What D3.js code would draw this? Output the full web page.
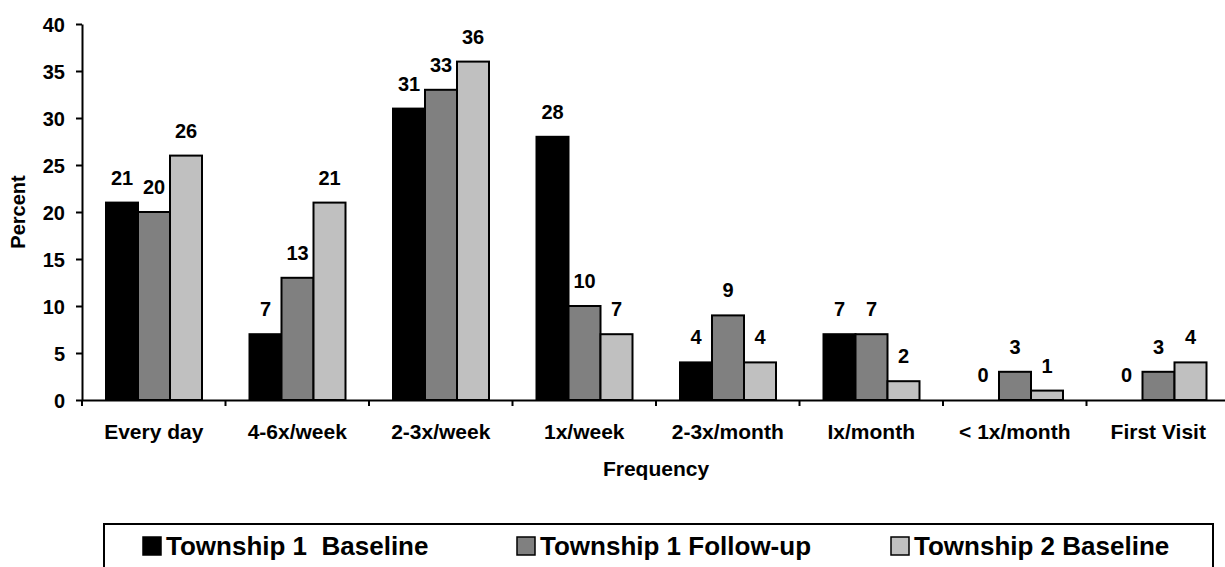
<!DOCTYPE html>
<html>
<head>
<meta charset="utf-8">
<script src="https://cdn.jsdelivr.net/npm/d3@7"></script>
<style>
  body { margin: 0; background: #fff; }
  svg text { font-family: 'Liberation Sans', Arial, sans-serif; font-weight: bold; fill: #000; }
</style>
</head>
<body>
<div id="chart"></div>
<script>
const categories = ['Every day', '4-6x/week', '2-3x/week', '1x/week', '2-3x/month', 'Ix/month', '< 1x/month', 'First Visit'];
const seriesNames = ['Township 1  Baseline', 'Township 1 Follow-up', 'Township 2 Baseline'];
const baseline1 = [21, 7, 31, 28, 4, 7, 0, 0];
const followup1 = [20, 13, 33, 10, 9, 7, 3, 3];
const baseline2 = [26, 21, 36, 7, 4, 2, 1, 4];
const yTicks = [0, 5, 10, 15, 20, 25, 30, 35, 40];
const colors = ['#000000', '#808080', '#c0c0c0'];

const width = 1225;
const height = 567;

let svg = d3.select('#chart').append('svg')
    .attr('width', width)
    .attr('height', height);

// plot area, x axis runs slightly past the right edge like the original
const plotLeft = 82, plotRight = 1230, plotTop = 24, plotBottom = 400;

let x = d3.scaleBand().domain(categories).range([plotLeft, plotRight]);
let xSeries = d3.scaleBand().domain(seriesNames).range([24, 120]);
let y = d3.scaleLinear().domain([0, 40]).range([plotBottom, plotTop]);

let allSeries = [baseline1, followup1, baseline2];

// bars
let groups = svg.selectAll('g.group')
    .data(categories)
    .enter()
    .append('g')
    .attr('class', 'group')
    .attr('transform', d => 'translate(' + x(d) + ',0)');

groups.selectAll('rect')
    .data((c, i) => seriesNames.map((s, j) => ({series: s, value: allSeries[j][i], color: colors[j]})))
    .enter()
    .append('rect')
    .attr('x', d => xSeries(d.series))
    .attr('y', d => y(d.value))
    .attr('width', xSeries.bandwidth())
    .attr('height', d => plotBottom - y(d.value))
    .attr('fill', d => d.color)
    .attr('stroke', d => d.value > 0 ? '#000' : 'none')
    .attr('stroke-width', 2);

// value labels
groups.selectAll('text.value')
    .data((c, i) => seriesNames.map((s, j) => ({series: s, value: allSeries[j][i]})))
    .enter()
    .append('text')
    .attr('class', 'value')
    .attr('x', d => xSeries(d.series) + xSeries.bandwidth() / 2)
    .attr('y', d => y(d.value) - 18)
    .attr('text-anchor', 'middle')
    .style('font-size', '20px')
    .text(d => d.value);

// y axis
let yAxis = svg.append('g')
    .attr('transform', 'translate(' + plotLeft + ',0)')
    .call(d3.axisLeft(y).tickValues(yTicks).tickSize(6).tickPadding(11).tickSizeOuter(0));
yAxis.selectAll('text').style('font-size', '20px').attr('dy', '0.36em');

// x axis: labels centred, ticks on the category boundaries
let xAxis = svg.append('g')
    .attr('transform', 'translate(0,' + plotBottom + ')')
    .call(d3.axisBottom(x).tickSize(0).tickPadding(24).tickSizeOuter(0));
xAxis.selectAll('text').style('font-size', '21px');

xAxis.selectAll('line.boundary')
    .data(categories.concat(['end']))
    .enter()
    .append('line')
    .attr('class', 'boundary')
    .attr('x1', (d, i) => plotLeft + i * x.step())
    .attr('x2', (d, i) => plotLeft + i * x.step())
    .attr('y1', 0)
    .attr('y2', 6)
    .attr('stroke', '#000')
    .attr('stroke-width', 2);

svg.selectAll('.domain').attr('stroke', '#000').attr('stroke-width', 2);
svg.selectAll('.tick line').attr('stroke', '#000').attr('stroke-width', 2);

// axis titles
svg.append('text')
    .attr('transform', 'translate(25,' + ((plotTop + plotBottom) / 2) + ') rotate(-90)')
    .attr('text-anchor', 'middle')
    .style('font-size', '20px')
    .text('Percent');

svg.append('text')
    .attr('x', (plotLeft + plotRight) / 2)
    .attr('y', 476)
    .attr('text-anchor', 'middle')
    .style('font-size', '21px')
    .text('Frequency');

// legend
let legend = svg.append('g');
legend.append('rect')
    .attr('x', 104)
    .attr('y', 524)
    .attr('width', 1109)
    .attr('height', 70)
    .attr('fill', 'none')
    .attr('stroke', '#000')
    .attr('stroke-width', 2);

let legendX = d3.scalePoint().domain(seriesNames).range([143, 891]);

let items = legend.selectAll('g.item')
    .data(seriesNames)
    .enter()
    .append('g')
    .attr('class', 'item')
    .attr('transform', d => 'translate(' + legendX(d) + ',537)');

items.append('rect')
    .attr('width', 18)
    .attr('height', 18)
    .attr('fill', (d, i) => colors[i])
    .attr('stroke', '#000')
    .attr('stroke-width', 1.5);

items.append('text')
    .attr('x', 23)
    .attr('y', 18)
    .style('font-size', '26px')
    .style('white-space', 'pre')
    .text(d => d);
</script>
</body>
</html>
